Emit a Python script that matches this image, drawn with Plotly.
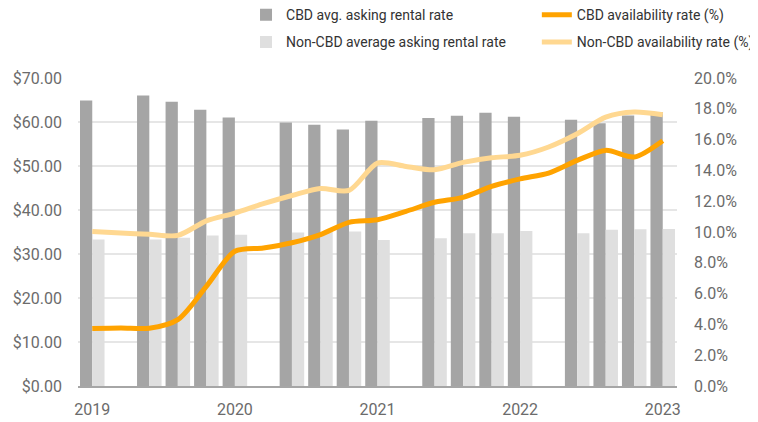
import plotly.graph_objects as go

# 21 quarterly slots; slots 1, 6, 11, 16 have no bars
slots = list(range(21))
tick_pos = [0, 5, 10, 15, 20]
tick_labels = ["2019", "2020", "2021", "2022", "2023"]

cbd_rent = [64.9, None, 66.0, 64.6, 62.8, 61.0, None, 59.9, 59.4, 58.3, 60.3,
            None, 60.9, 61.4, 62.1, 61.2, None, 60.5, 59.7, 61.5, 62.3]
noncbd_rent = [33.3, None, 33.3, 33.7, 34.2, 34.4, None, 34.9, 35.0, 35.1, 33.2,
               None, 33.6, 34.7, 34.7, 35.2, None, 34.7, 35.5, 35.6, 35.7]
cbd_avail = [3.73, 3.77, 3.75, 4.31, 6.47, 8.75, 8.96, 9.3, 9.83, 10.63, 10.8,
             11.34, 11.93, 12.25, 12.96, 13.45, 13.83, 14.65, 15.3, 14.87, 15.93]
noncbd_avail = [10.04, 9.94, 9.85, 9.78, 10.72, 11.23, 11.84, 12.37, 12.83, 12.7, 14.48,
                14.26, 14.04, 14.52, 14.82, 14.98, 15.52, 16.38, 17.46, 17.79, 17.61]

pct_ticks = [0, 2, 4, 6, 8, 10, 12, 14, 16, 18, 20]
pct_labels = [f"{v:.1f}%" for v in pct_ticks]
usd_ticks = [0, 10, 20, 30, 40, 50, 60, 70]
usd_labels = [f"${v:.2f}" for v in usd_ticks]

FONT = "Roboto"
TICK_COLOR = "#6b6b6b"

fig = go.Figure()
fig.add_trace(go.Bar(x=slots, y=cbd_rent, name="CBD avg. asking rental rate",
                     marker=dict(color="#A5A5A5", line=dict(width=0)),
                     legend="legend", legendgroup="a"))
fig.add_trace(go.Bar(x=slots, y=noncbd_rent, name="Non-CBD average asking rental rate",
                     marker=dict(color="#DFDFDF", line=dict(width=0)),
                     legend="legend", legendgroup="b"))
fig.add_trace(go.Scatter(x=slots, y=cbd_avail, name="CBD availability rate (%)",
                         mode="lines", line=dict(color="#FFA300", width=5, shape="spline", smoothing=0.8),
                         yaxis="y2", legend="legend2", legendgroup="c"))
fig.add_trace(go.Scatter(x=slots, y=noncbd_avail, name="Non-CBD availability rate (%)",
                         mode="lines", line=dict(color="#FFD891", width=5, shape="spline", smoothing=0.8),
                         yaxis="y2", legend="legend2", legendgroup="d"))

legend_common = dict(orientation="v", traceorder="grouped", tracegroupgap=6,
                     font=dict(family=FONT, size=14, color="#333333"),
                     bgcolor="rgba(0,0,0,0)", xanchor="left", yanchor="top",
                     itemclick=False)

# page body has an 8px margin, so the figure is sized to the remaining viewport
fig.update_layout(
    width=750, height=414,
    margin=dict(l=70, r=81, t=70, b=35.5, autoexpand=False),
    paper_bgcolor="white", plot_bgcolor="white",
    barmode="group", bargap=0.14, bargroupgap=0,
    font=dict(family=FONT, size=16, color=TICK_COLOR),
    showlegend=True,
    legend=dict(x=0.2805, y=1.256, **legend_common),
    legend2=dict(x=0.766, y=1.256, **legend_common),
    xaxis=dict(range=[-0.5, 20.5], tickvals=tick_pos, ticktext=tick_labels,
               showgrid=False, showline=True, linecolor="#A6A6A6", linewidth=1.5,
               ticks="", ticklabelstandoff=8, zeroline=False, automargin=False,
               tickfont=dict(family=FONT, size=16, color=TICK_COLOR)),
    yaxis=dict(range=[0, 70], tickvals=usd_ticks, ticktext=usd_labels,
               showgrid=True, gridcolor="#E6E6E6", gridwidth=1.5,
               zeroline=False, ticks="", ticklabelstandoff=15, automargin=False,
               tickfont=dict(family=FONT, size=16, color=TICK_COLOR)),
    yaxis2=dict(range=[0, 20], tickvals=pct_ticks, ticktext=pct_labels,
                overlaying="y", side="right",
                showgrid=False, zeroline=False, ticks="", ticklabelstandoff=16, automargin=False,
                tickfont=dict(family=FONT, size=16, color=TICK_COLOR)),
)

fig.write_html("out.html")
